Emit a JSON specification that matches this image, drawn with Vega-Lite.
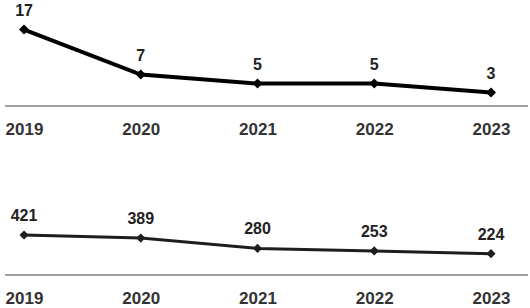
{
  "$schema": "https://vega.github.io/schema/vega-lite/v6.json",
  "padding": {"left": 4, "top": 0, "right": 0, "bottom": 0},
  "background": "white",
  "config": {
    "view": {"stroke": null},
    "font": "Liberation Sans",
    "axis": {"labelFont": "Liberation Sans"}
  },
  "datasets": {
    "top": [
      {"year": 2019, "value": 17},
      {"year": 2020, "value": 7},
      {"year": 2021, "value": 5},
      {"year": 2022, "value": 5},
      {"year": 2023, "value": 3}
    ],
    "bottom": [
      {"year": 2019, "value": 421},
      {"year": 2020, "value": 389},
      {"year": 2021, "value": 280},
      {"year": 2022, "value": 253},
      {"year": 2023, "value": 224}
    ]
  },
  "spacing": 54,
  "vconcat": [
    {
      "width": 523,
      "height": 106,
      "data": {"name": "top"},
      "layer": [
        {"mark": {"type": "rule", "color": "#a0a0a0", "strokeWidth": 1.5}, "encoding": {"y": {"datum": 0, "type": "quantitative", "scale": {"domain": [0, 23.56], "nice": false, "zero": true}, "axis": null}}},
        {
          "mark": {"type": "line", "color": "#000000", "strokeWidth": 4},
          "encoding": {
            "x": {"field": "year", "type": "quantitative", "scale": {"domain": [2018.837, 2023.317], "nice": false, "zero": false},
              "axis": {"title": null, "domain": false, "grid": false, "values": [2019, 2019.5, 2020, 2020.5, 2021, 2021.5, 2022, 2022.5, 2023], "format": "d", "labelExpr": "datum.value % 1 === 0 ? datum.label : ''", "tickOpacity": {"expr": "datum.value % 1 === 0 ? 0 : 1"}, "tickSize": 6, "tickColor": "#999999", "tickWidth": 1.5, "labelPadding": 9, "labelFontSize": 17, "labelFontWeight": "bold", "labelColor": "#333333", "labelAngle": 0, "labelFlush": false, "labelOverlap": false}},
            "y": {"field": "value", "type": "quantitative"}
          }
        },
        {"mark": {"type": "point", "shape": "diamond", "filled": true, "color": "#000000", "size": 100, "opacity": 1}, "encoding": {"x": {"field": "year", "type": "quantitative"}, "y": {"field": "value", "type": "quantitative"}}},
        {"mark": {"type": "text", "dy": -19, "fontSize": 16, "fontWeight": "bold", "color": "#222222", "baseline": "middle"}, "encoding": {"x": {"field": "year", "type": "quantitative"}, "y": {"field": "value", "type": "quantitative"}, "text": {"field": "value", "type": "quantitative"}}}
      ]
    },
    {
      "width": 523,
      "height": 84,
      "data": {"name": "bottom"},
      "layer": [
        {"mark": {"type": "rule", "color": "#a0a0a0", "strokeWidth": 1.5}, "encoding": {"y": {"datum": 0, "type": "quantitative", "scale": {"domain": [0, 884], "nice": false, "zero": true}, "axis": null}}},
        {
          "mark": {"type": "line", "color": "#1e1e1e", "strokeWidth": 3},
          "encoding": {
            "x": {"field": "year", "type": "quantitative", "scale": {"domain": [2018.837, 2023.317], "nice": false, "zero": false},
              "axis": {"title": null, "domain": false, "grid": false, "values": [2019, 2019.5, 2020, 2020.5, 2021, 2021.5, 2022, 2022.5, 2023], "format": "d", "labelExpr": "datum.value % 1 === 0 ? datum.label : ''", "tickOpacity": {"expr": "datum.value % 1 === 0 ? 0 : 1"}, "tickSize": 6, "tickColor": "#999999", "tickWidth": 1.5, "labelPadding": 9, "labelFontSize": 17, "labelFontWeight": "bold", "labelColor": "#333333", "labelAngle": 0, "labelFlush": false, "labelOverlap": false}},
            "y": {"field": "value", "type": "quantitative"}
          }
        },
        {"mark": {"type": "point", "shape": "diamond", "filled": true, "color": "#1e1e1e", "size": 85, "opacity": 1}, "encoding": {"x": {"field": "year", "type": "quantitative"}, "y": {"field": "value", "type": "quantitative"}}},
        {"mark": {"type": "text", "dy": -19, "fontSize": 16, "fontWeight": "bold", "color": "#222222", "baseline": "middle"}, "encoding": {"x": {"field": "year", "type": "quantitative"}, "y": {"field": "value", "type": "quantitative"}, "text": {"field": "value", "type": "quantitative"}}}
      ]
    }
  ]
}
